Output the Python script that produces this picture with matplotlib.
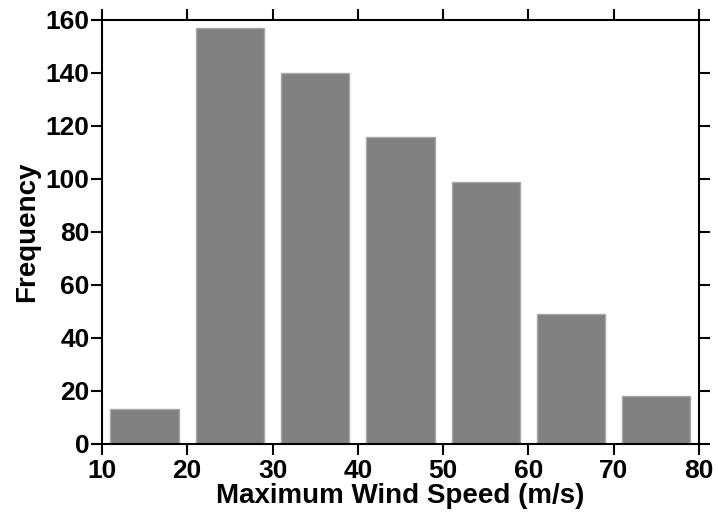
import numpy as np
import matplotlib
matplotlib.use("Agg")
import matplotlib.pyplot as plt

# wind speed bins (m/s) and counts
bin_left = [10, 20, 30, 40, 50, 60, 70]
counts = [13, 157, 140, 116, 99, 49, 18]
x_ticks = [10, 20, 30, 40, 50, 60, 70, 80]
y_ticks = [0, 20, 40, 60, 80, 100, 120, 140, 160]

plt.rcParams.update({
    "font.family": "Liberation Sans",
    "font.weight": "bold",
    "axes.linewidth": 1.5,
})

fig = plt.figure(figsize=(7.18, 5.18), dpi=100)
ax = fig.add_axes([0.142, 0.143, 0.8315, 0.8185])

centers = np.array(bin_left) + 5
ax.bar(centers, counts, width=8, color="#808080", edgecolor="#a8a8a8",
       linewidth=1.0)

ax.set_xlim(10, 80)
ax.set_ylim(0, 160)
ax.set_xticks(x_ticks)
ax.set_yticks(y_ticks)
ax.tick_params(axis="both", which="major", direction="out", length=8,
               width=1.5, labelsize=19, top=True, right=True,
               labeltop=False, labelright=False, pad=1)
ax.tick_params(axis="x", pad=3)
for lab in ax.get_xticklabels() + ax.get_yticklabels():
    lab.set_fontweight("bold")

ax.set_xlabel("Maximum Wind Speed (m/s)", fontsize=20, fontweight="bold",
              labelpad=0)
ax.set_ylabel("Frequency", fontsize=20, fontweight="bold", labelpad=4)

fig.savefig("out.png", dpi=100)
